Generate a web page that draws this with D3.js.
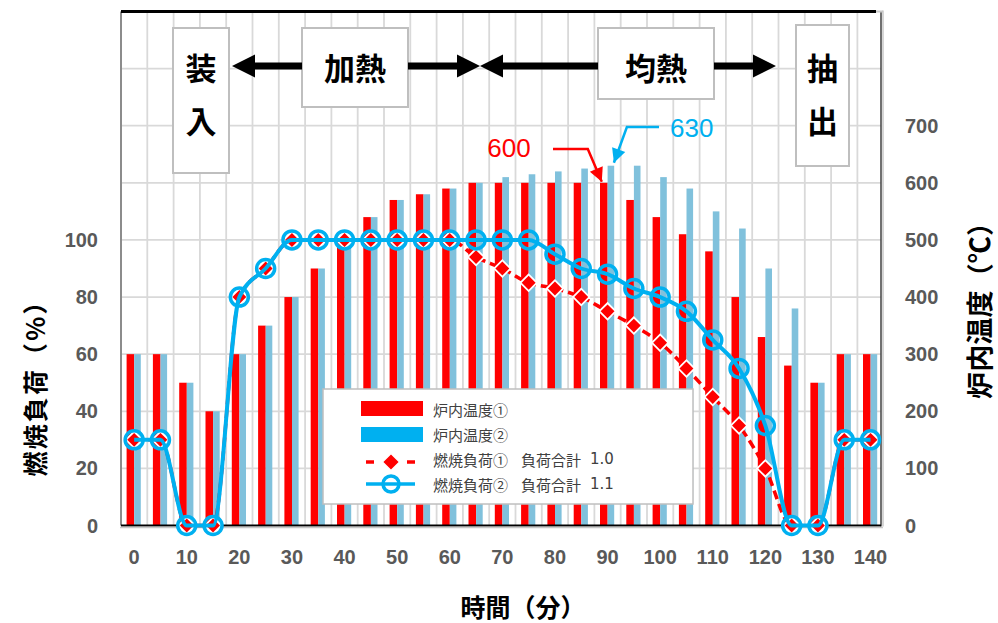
<!DOCTYPE html>
<html><head><meta charset="utf-8">
<script src="https://cdn.jsdelivr.net/npm/d3@7"></script>
<style>body{margin:0;background:#fff} svg{display:block}</style>
</head><body><svg id="c" width="998" height="623"></svg>
<script>
// ---- data ----
const times = [0,5,10,15,20,25,30,35,40,45,50,55,60,65,70,75,80,85,90,95,100,105,110,115,120,125,130,135,140];
const temp1 = [300,300,250,200,300,350,400,450,500,540,570,580,590,600,600,600,600,600,600,570,540,510,480,400,330,280,250,300,300];
const temp2 = [300,300,250,200,300,350,400,450,500,540,570,580,590,600,610,615,620,625,630,630,610,590,550,520,450,380,250,300,300];
const load1 = [30,30,0,0,80,90,100,100,100,100,100,100,100,94,90,85,83,80,75,70,64,55,45,35,20,0,0,30,30];
const load2 = [30,30,0,0,80,90,100,100,100,100,100,100,100,100,100,100,95,90,88,83,80,75,65,55,35,0,0,30,30];
const leftTicks = [0,20,40,60,80,100];
const rightTicks = [0,100,200,300,400,500,600,700];
const xTickLabels = [0,10,20,30,40,50,60,70,80,90,100,110,120,130,140];
const seriesNames = ["炉内温度①","炉内温度②","燃焼負荷①","燃焼負荷②"];
const loadTotalLabel = "負荷合計";
const loadTotals = ["1.0","1.1"];
const stages = ["装入","加熱","均熱","抽出"];
const peakTimes = [90, 90];
const peakValues = [600, 630];
const xTitle = "時間（分）";
const yLeftTitle = "燃焼負荷（%）";
const yRightTitle = "炉内温度（℃）";

// ---- layout ----
const L = 121, R = 881, T = 11.5, B = 525.5, step = 26.3;
const RED = "#ff0000", BAR2 = "#80c1dc", CYAN = "#00b0f0", GRID = "#d9d9d9";
const CJK = "'Noto Sans CJK JP','Noto Sans CJK SC',sans-serif";
const NUM = "'Liberation Sans',Arial,sans-serif";

const svg = d3.select("#c");
const x = d3.scaleBand().domain(times).range([L, L + step * times.length]).padding(0);
const yL = d3.scaleLinear().domain([0, 180]).range([B, T]);
const yR = d3.scaleLinear().domain([0, 900]).range([B, T]);
const cx = t => x(t) + x.bandwidth() / 2;

// gridlines
const g = svg.append("g");
g.selectAll("line.v").data(times.slice(1)).join("line")
  .attr("x1", d => x(d)).attr("x2", d => x(d)).attr("y1", T).attr("y2", B)
  .attr("stroke", GRID).attr("stroke-width", 1.8);
g.selectAll("line.h").data(d3.range(20, 180, 20)).join("line")
  .attr("x1", L).attr("x2", R).attr("y1", d => yL(d)).attr("y2", d => yL(d))
  .attr("stroke", GRID).attr("stroke-width", 1.8);

// bars
const bars = svg.append("g");
bars.selectAll("rect.r").data(times).join("rect")
  .attr("x", d => x(d) + 5.6).attr("width", 7.6)
  .attr("y", (d, i) => yR(temp1[i])).attr("height", (d, i) => B - yR(temp1[i]))
  .attr("fill", RED);
bars.selectAll("rect.b").data(times).join("rect")
  .attr("x", d => x(d) + 13.2).attr("width", 6.6)
  .attr("y", (d, i) => yR(temp2[i])).attr("height", (d, i) => B - yR(temp2[i]))
  .attr("fill", BAR2);

// frame
svg.append("line").attr("x1", L).attr("x2", L).attr("y1", T).attr("y2", B).attr("stroke", "#8c8c8c").attr("stroke-width", 2);
svg.append("line").attr("x1", R).attr("x2", R).attr("y1", T).attr("y2", B + 1).attr("stroke", "#404040").attr("stroke-width", 1.5);
svg.append("line").attr("x1", R + 2).attr("x2", R + 2).attr("y1", T - 1).attr("y2", B + 1).attr("stroke", "#c8c8c8").attr("stroke-width", 1.5);
svg.append("line").attr("x1", L).attr("x2", 876).attr("y1", T).attr("y2", T).attr("stroke", "#000").attr("stroke-width", 3);
svg.append("line").attr("x1", 876).attr("x2", R + 2).attr("y1", T).attr("y2", T).attr("stroke", "#c8c8c8").attr("stroke-width", 2);
svg.append("line").attr("x1", L).attr("x2", R).attr("y1", B).attr("y2", B).attr("stroke", "#000").attr("stroke-width", 2);
svg.append("line").attr("x1", L - 1).attr("x2", R + 2).attr("y1", B + 2).attr("y2", B + 2).attr("stroke", "#c8c8c8").attr("stroke-width", 1.5);

// lines
const line = arr => d3.line().x((d, i) => cx(times[i])).y(d => yL(d)).curve(d3.curveMonotoneX)(arr);
svg.append("path").attr("d", line(load1)).attr("fill", "none").attr("stroke", RED)
  .attr("stroke-width", 3.5).attr("stroke-dasharray", "9,5");
const diamond = d3.symbol().type(d3.symbolSquare).size(135);
svg.append("g").selectAll("path").data(load1).join("path")
  .attr("d", diamond).attr("transform", (d, i) => `translate(${cx(times[i])},${yL(d)}) rotate(45)`)
  .attr("fill", RED).attr("stroke", "#fff").attr("stroke-width", 1.8);
svg.append("path").attr("d", line(load2)).attr("fill", "none").attr("stroke", CYAN).attr("stroke-width", 4);
svg.append("g").selectAll("circle").data(load2).join("circle")
  .attr("cx", (d, i) => cx(times[i])).attr("cy", d => yL(d)).attr("r", 9)
  .attr("fill", "none").attr("stroke", CYAN).attr("stroke-width", 3.5);

// axes labels
const tickStyle = s => s.attr("font-family", NUM).attr("font-weight", "bold").attr("font-size", 20).attr("fill", "#595959").attr("dominant-baseline", "central");
svg.append("g").selectAll("text").data(leftTicks).join("text")
  .attr("x", 98).attr("y", d => yL(d)).attr("text-anchor", "end").text(d => d).call(tickStyle);
svg.append("g").selectAll("text").data(rightTicks).join("text")
  .attr("x", 905).attr("y", d => yR(d)).attr("text-anchor", "start").text(d => d).call(tickStyle);
svg.append("g").selectAll("text").data(xTickLabels).join("text")
  .attr("x", d => cx(d)).attr("y", 557).attr("text-anchor", "middle").text(d => d).call(tickStyle);

// titles
svg.append("text").attr("x", 523).attr("y", 606).attr("text-anchor", "middle").attr("dominant-baseline", "central")
  .attr("font-family", CJK).attr("font-weight", "bold").attr("font-size", 25).attr("fill", "#000").text(xTitle);
svg.append("text").attr("transform", "translate(34,383) rotate(-90)").attr("text-anchor", "middle").attr("dominant-baseline", "central")
  .attr("font-family", CJK).attr("font-weight", "bold").attr("font-size", 25).attr("fill", "#000")
  .attr("textLength", 187).attr("lengthAdjust", "spacing").text(yLeftTitle);
svg.append("text").attr("transform", "translate(978,304) rotate(-90)").attr("text-anchor", "middle").attr("dominant-baseline", "central")
  .attr("font-family", CJK).attr("font-weight", "bold").attr("font-size", 27).attr("fill", "#000")
  .attr("textLength", 190).attr("lengthAdjust", "spacing").text(yRightTitle);

// stage annotations
const boxes = [
  {x: 173, y: 28, w: 56, h: 145, vertical: true},
  {x: 302, y: 28, w: 106, h: 79, vertical: false},
  {x: 598, y: 28, w: 116, h: 71, vertical: false},
  {x: 796, y: 25, w: 53, h: 141, vertical: true}
];
const ann = svg.append("g");
boxes.forEach((b, i) => {
  ann.append("rect").attr("x", b.x).attr("y", b.y).attr("width", b.w).attr("height", b.h)
    .attr("fill", "#fff").attr("stroke", "#bfbfbf").attr("stroke-width", 2);
  const chars = b.vertical ? stages[i].split("") : [stages[i]];
  chars.forEach((c, j) => {
    ann.append("text").attr("x", b.x + b.w / 2).attr("y", b.vertical ? 66 + j * 53 : 66)
      .attr("text-anchor", "middle").attr("dominant-baseline", "central")
      .attr("font-family", CJK).attr("font-weight", "bold").attr("font-size", 31).attr("fill", "#000").text(c);
  });
});
function blockArrow(tail, tip, y) {
  const d = tip > tail ? 1 : -1, hl = 23, hh = 11.5, lw = 3.5;
  const hb = tip - d * hl;
  const p = [[tip, y], [hb, y - hh], [hb, y - lw], [tail, y - lw], [tail, y + lw], [hb, y + lw], [hb, y + hh]];
  ann.append("path").attr("d", "M" + p.map(q => q.join(",")).join("L") + "Z").attr("fill", "#000");
}
blockArrow(302, 232, 66);
blockArrow(408, 480, 66);
blockArrow(598, 480, 66);
blockArrow(714, 776, 66);

// peak call-outs
function callout(pts, color, w) {
  ann.append("path").attr("d", "M" + pts.map(q => q.join(",")).join("L")).attr("fill", "none")
    .attr("stroke", color).attr("stroke-width", w);
  const [a, b] = pts.slice(-2);
  const dx = b[0] - a[0], dy = b[1] - a[1], len = Math.hypot(dx, dy), ux = dx / len, uy = dy / len;
  const hl = 14, hw = 7;
  const bx = b[0] - ux * hl, by = b[1] - uy * hl;
  ann.append("path").attr("d", `M${b[0]},${b[1]}L${bx - uy * hw},${by + ux * hw}L${bx + uy * hw},${by - ux * hw}Z`).attr("fill", color);
}
const tipR = [x(peakTimes[0]) + 5.6 + 3.8 - 2, yR(peakValues[0]) - 1];
callout([[553, 149], [tipR[0] - 14, 149], tipR], RED, 2.5);
ann.append("text").attr("x", 509).attr("y", 148).attr("text-anchor", "middle").attr("dominant-baseline", "central")
  .attr("font-family", NUM).attr("font-size", 26).attr("fill", RED).text(peakValues[0]);
const tipB = [x(peakTimes[1]) + 13.2 + 3.3 + 3, yR(peakValues[1]) - 3];
callout([[659, 127], [tipB[0] + 13, 127], tipB], CYAN, 2.5);
ann.append("text").attr("x", 670).attr("y", 128).attr("text-anchor", "start").attr("dominant-baseline", "central")
  .attr("font-family", NUM).attr("font-size", 26).attr("fill", CYAN).text(peakValues[1]);

// legend
const lg = svg.append("g");
lg.append("rect").attr("x", 323).attr("y", 389).attr("width", 370).attr("height", 115)
  .attr("fill", "#fff").attr("stroke", "#bfbfbf").attr("stroke-width", 1.5);
const rowY = [409, 434, 459, 484];
lg.append("rect").attr("x", 361).attr("y", rowY[0] - 8).attr("width", 62).attr("height", 15).attr("fill", RED);
lg.append("rect").attr("x", 361).attr("y", rowY[1] - 7).attr("width", 62).attr("height", 15).attr("fill", CYAN);
[[366, 374], [407, 415]].forEach(s => lg.append("line").attr("x1", s[0]).attr("x2", s[1]).attr("y1", rowY[2] + 3).attr("y2", rowY[2] + 3).attr("stroke", RED).attr("stroke-width", 3.5));
lg.append("path").attr("d", d3.symbol().type(d3.symbolSquare).size(150)).attr("transform", `translate(391,${rowY[2] + 3}) rotate(45)`)
  .attr("fill", RED).attr("stroke", "#fff").attr("stroke-width", 1.5);
lg.append("line").attr("x1", 366).attr("x2", 415).attr("y1", rowY[3]).attr("y2", rowY[3]).attr("stroke", CYAN).attr("stroke-width", 3.5);
lg.append("circle").attr("cx", 391).attr("cy", rowY[3]).attr("r", 8).attr("fill", "none").attr("stroke", CYAN).attr("stroke-width", 3.5);
seriesNames.forEach((n, i) => {
  lg.append("text").attr("x", 433).attr("y", rowY[i]).attr("dominant-baseline", "central")
    .attr("font-family", CJK).attr("font-size", 15).attr("fill", "#404040").text(n);
});
loadTotals.forEach((v, i) => {
  lg.append("text").attr("x", 521).attr("y", rowY[2 + i]).attr("dominant-baseline", "central")
    .attr("font-family", CJK).attr("font-size", 15).attr("fill", "#404040").text(loadTotalLabel);
  lg.append("text").attr("x", 590).attr("y", rowY[2 + i]).attr("dominant-baseline", "central")
    .attr("font-family", "'DejaVu Sans',sans-serif").attr("font-size", 15).attr("fill", "#404040").text(v);
});
</script></body></html>
